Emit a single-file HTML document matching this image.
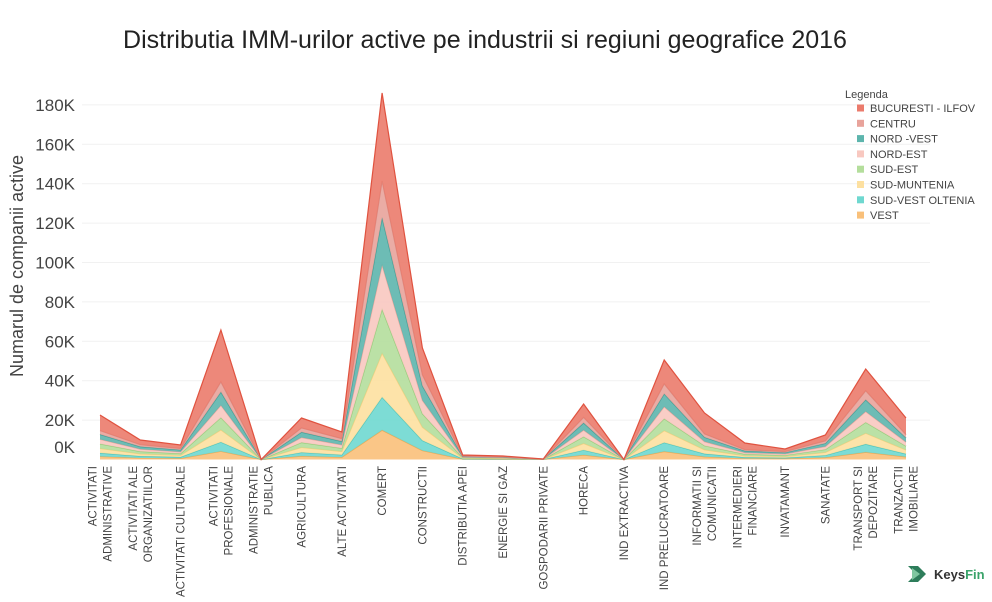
<!DOCTYPE html>
<html><head><meta charset="utf-8">
<style>
html,body{margin:0;padding:0;background:#fff;}
svg{display:block;font-family:"Liberation Sans",sans-serif;}
</style></head><body>
<svg id="s" width="992" height="602" viewBox="0 0 992 602" xmlns="http://www.w3.org/2000/svg">
<rect width="992" height="602" fill="#fff"/>
<text x="485" y="48" font-size="25" fill="#222" text-anchor="middle">Distributia IMM-urilor active pe industrii si regiuni geografice 2016</text>
<text transform="translate(23,266) rotate(-90)" font-size="18" fill="#444" text-anchor="middle">Numarul de companii active</text>
<g id="grid"></g>
<g id="areas"></g>
<g id="xl" font-size="11.5" fill="#444"></g>
<g font-size="11" fill="#444">
<text x="845" y="98">Legenda</text>
<g id="leg"></g>
</g>
<g transform="translate(906,562)">
<path d="M2 4 L12 4 L20 12 L12 20 L2 20 L10 12 Z" fill="#2e7d5b"/>
<path d="M6 6 L14 12 L6 18 Z" fill="#7fc7a0"/>
<text x="28" y="17" font-size="13" font-weight="bold" fill="#333">Keys<tspan fill="#3aa36a">Fin</tspan></text>
</g>
</svg>
<script>
const base=459.5, k=39.4/20;
const g=document.getElementById('grid');
let gh='';
for(let v=0;v<=180;v+=20){const y=base-v*k;
 if(v>0)gh+=`<line x1="82" x2="930" y1="${y}" y2="${y}" stroke="#f1f1f1"/>`;
 gh+=`<text x="75" y="${v==0?453:y+6}" font-size="17" fill="#444" text-anchor="end">${v}K</text>`;}
g.innerHTML=gh;
const cats=[["ACTIVITATI","ADMINISTRATIVE"],["ACTIVITATI ALE","ORGANIZATIILOR"],["ACTIVITATI CULTURALE"],["ACTIVITATI","PROFESIONALE"],["ADMINISTRATIE","PUBLICA"],["AGRICULTURA"],["ALTE ACTIVITATI"],["COMERT"],["CONSTRUCTII"],["DISTRIBUTIA APEI"],["ENERGIE SI GAZ"],["GOSPODARII PRIVATE"],["HORECA"],["IND EXTRACTIVA"],["IND PRELUCRATOARE"],["INFORMATII SI","COMUNICATII"],["INTERMEDIERI","FINANCIARE"],["INVATAMANT"],["SANATATE"],["TRANSPORT SI","DEPOZITARE"],["TRANZACTII","IMOBILIARE"]];
const xs=cats.map((c,i)=>100+40.3*i);
const tops=[415,440,445,330,459.5,418,432,93,348,455,456,459,404,459.5,360,413,443,449,435,369,418];
const fr=[.08,.17,.29,.41,.53,.66,.76,1];
const bfr={3:.6,15:.55,16:.6,20:.6,0:.65};
const cols=[["#f9c07a","#f0a850"],["#6fd8d0","#4cc4bb"],["#fde0a0","#f5cf80"],["#b4de9c","#95cc7a"],["#f8c8c0","#eeaaa0"],["#5db5ad","#3f9f96"],["#e8a39b","#dc8a80"],["#eb7b6c","#e0523f"]];
let cum=tops.map(()=>0);
let ah='';
for(let L=0;L<8;L++){
 const prev=cum.slice();
 cum=tops.map((t,i)=>{const h=base-t;let f=fr[L];
   if(bfr[i]!==undefined&&L<7){f=fr[L]/fr[6]*bfr[i];}
   return h*f;});
 let p='M';
 xs.forEach((x,i)=>p+=`${x},${base-cum[i]} L`);
 for(let i=xs.length-1;i>=0;i--)p+=`${xs[i]},${base-prev[i]} ${i?'L':''}`;
 p+='Z';
 ah+=`<path d="${p}" fill="${cols[L][0]}" fill-opacity="0.9" stroke="none"/>`;
 ah+=`<polyline points="${xs.map((x,i)=>x+','+(base-cum[i])).join(' ')}" fill="none" stroke="${cols[L][1]}" stroke-width="1.2"/>`;
}
document.getElementById('areas').innerHTML=ah;
let xh='';
cats.forEach((c,i)=>{const n=c.length;c.forEach((t,j)=>{const x=xs[i]+(j-(n-1)/2)*15+4;
 xh+=`<text transform="translate(${x},466) rotate(-90)" text-anchor="end">${t}</text>`;});});
document.getElementById('xl').innerHTML=xh;
const names=["BUCURESTI - ILFOV","CENTRU","NORD -VEST","NORD-EST","SUD-EST","SUD-MUNTENIA","SUD-VEST OLTENIA","VEST"];
let lh='';
names.forEach((n,i)=>{const y=108+i*15.3;const c=cols[7-i][0];
 lh+=`<rect x="857" y="${y-3.5}" width="7" height="7" fill="${c}"/><text x="870" y="${y+4}">${n}</text>`;});
document.getElementById('leg').innerHTML=lh;
</script>
</body></html>
